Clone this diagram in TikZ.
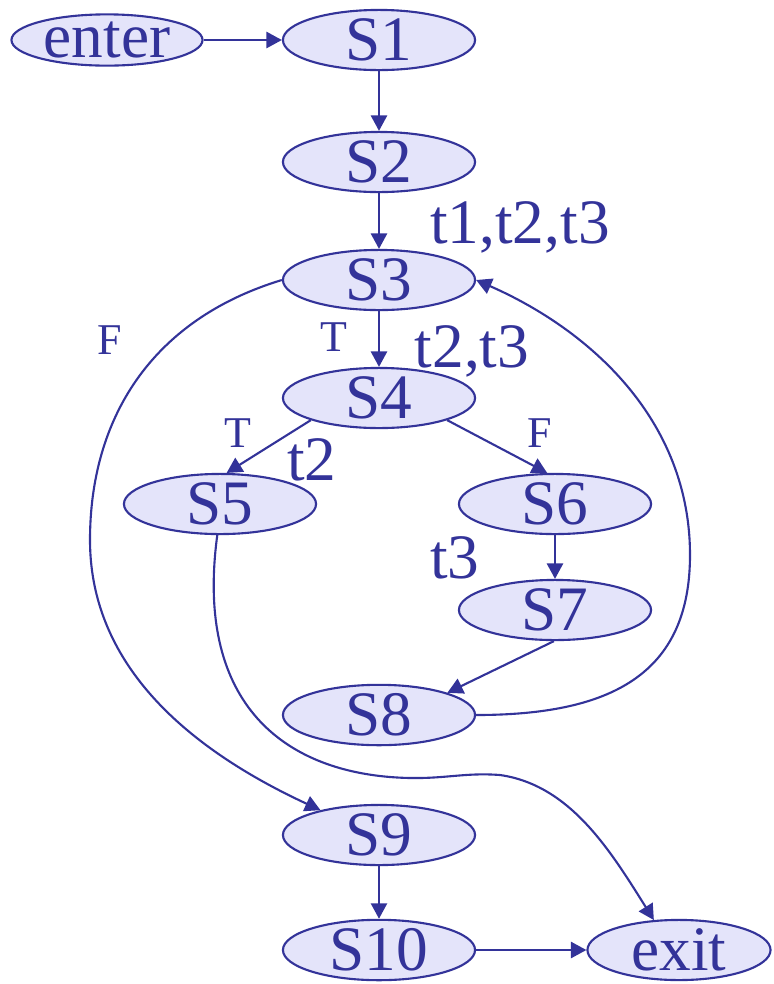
\documentclass[tikz,border=0pt]{standalone}
\usepackage{fontspec}
\setmainfont{Liberation Serif}
\usetikzlibrary{arrows.meta,shapes.geometric}
\definecolor{flowblue}{RGB}{51,51,153}
\definecolor{flowfill}{RGB}{228,228,250}

\begin{document}
\begin{tikzpicture}[x=0.01cm,y=-0.01cm,line width=0.6pt,flowblue,
  >={Triangle[length=4.4pt,width=4.6pt]},
  stmt/.style={draw,ellipse,fill=flowfill,inner sep=0pt,minimum width=1.92cm,minimum height=0.6cm,font=\fontsize{18}{20}\selectfont},
  tests/.style={font=\fontsize{18}{20}\selectfont,inner sep=0pt,anchor=base},
  branch/.style={font=\fontsize{12.5}{14}\selectfont,inner sep=0pt}]
\useasboundingbox (0,0) rectangle (774,984);
% statements
\node[stmt,minimum width=1.91cm,minimum height=0.5cm] (enter) at (107,40) {enter};
\node[stmt] (s1) at (379,40) {S1};
\node[stmt] (s2) at (379,162) {S2};
\node[stmt] (s3) at (379,280) {S3};
\node[stmt] (s4) at (379,398) {S4};
\node[stmt] (s5) at (220,504) {S5};
\node[stmt] (s6) at (555,504) {S6};
\node[stmt] (s7) at (555,610) {S7};
\node[stmt] (s8) at (379,715) {S8};
\node[stmt] (s9) at (379,835) {S9};
\node[stmt,minimum height=0.56cm] (s10) at (379,950) {S10};
\node[stmt,minimum width=1.83cm,minimum height=0.56cm] (exit) at (679,950) {exit};
% test cases and branch labels
\node[tests] (t123) at (520,243) {t1,t2,t3};
\node[tests] (t23) at (472,367) {t2,t3};
\node[tests] (t2) at (312,480) {t2};
\node[tests] (t3) at (455,578) {t3};
\node[branch] (ft3) at (110,340) {F};
\node[branch] (tt3) at (334,337) {T};
\node[branch] (tt4) at (238,433) {T};
\node[branch] (ft4) at (540,433) {F};
% edges
\draw[->] (enter) -- (s1);
\draw[->] (s1) -- (s2);
\draw[->] (s2) -- (s3);
\draw[->] (s3) -- (s4);
\draw[->] (s4.198) -- (s5.78);
\draw[->] (s4.-18) -- (s6.104);
\draw[->] (s6) -- (s7);
\draw[->] (s7.268) -- (s8.18);
\draw[->] (s8.east) .. controls (610,715) and (690,675) .. (690,555)
  .. controls (690,420) and (590,330) .. (s3.east);
\draw[->] (s3.west) .. controls (150,320) and (90,420) .. (90,540)
  .. controls (90,660) and (180,745) .. (s9.157);
\draw[->] (s5.265) .. controls (195,700) and (280,768) .. (390,777)
  .. controls (440,781) and (460,772) .. (500,775)
  .. controls (570,785) and (610,850) .. (exit.130);
\draw[->] (s9) -- (s10);
\draw[->] (s10) -- (exit);
\end{tikzpicture}
\end{document}
